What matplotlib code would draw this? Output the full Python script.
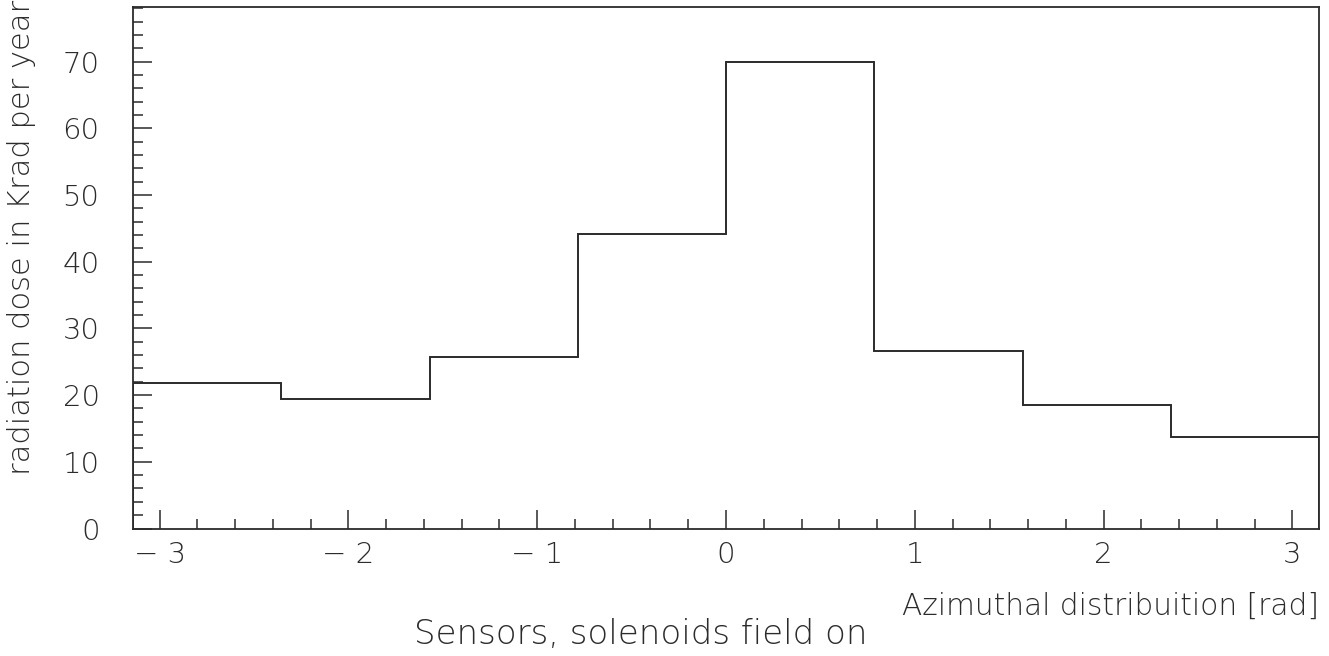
import matplotlib.pyplot as plt
import numpy as np
from matplotlib.ticker import MultipleLocator

# azimuthal bins, width pi/4, from -pi to pi
bin_edges = np.pi * np.array([-1.0, -0.75, -0.5, -0.25, 0.0, 0.25, 0.5, 0.75, 1.0])
dose = [21.8, 19.4, 25.7, 44.1, 70.0, 26.6, 18.5, 13.7]

x_label = "Azimuthal distribuition [rad]"
y_label = "radiation dose in Krad per year"
caption = "Sensors, solenoids field on"

ink = "#2b2b2b"
plt.rcParams["font.family"] = ["DejaVu Sans"]
plt.rcParams["font.weight"] = "light"

fig = plt.figure(figsize=(13.29, 6.56), dpi=100)
ax = fig.add_axes((133 / 1329, 1 - 528.5 / 656, 1186 / 1329, 521.5 / 656))

ax.stairs(dose, bin_edges, color=ink, linewidth=1.4)

ax.set_xlim(-np.pi, np.pi)
ax.set_ylim(0, 78.2)

ax.xaxis.set_major_locator(MultipleLocator(1))
ax.xaxis.set_minor_locator(MultipleLocator(0.2))
ax.yaxis.set_major_locator(MultipleLocator(10))
ax.yaxis.set_minor_locator(MultipleLocator(2))
ax.tick_params(which="both", direction="in", color=ink, width=1.1,
               top=False, right=False, labelcolor=ink, labelsize=21)
ax.tick_params(which="major", length=14)
ax.tick_params(which="minor", length=7)
ax.tick_params(axis="x", which="both", pad=9)
ax.tick_params(axis="y", which="both", pad=24)
ax.xaxis.set_major_formatter(lambda v, _: f"{v:.0f}".replace("-", "\u2212 "))
for side in ("left", "right", "top", "bottom"):
    ax.spines[side].set_color(ink)
    ax.spines[side].set_linewidth(1.3)

ax.text(1.0, -0.15, x_label, transform=ax.transAxes, ha="right", va="center",
        fontsize=21.3, color=ink)
fig.text(641 / 1329, 1 - 635 / 656, caption, ha="center", va="center",
         fontsize=24.5, color=ink)
fig.text(22 / 1329, 1.0, y_label, rotation=90, ha="center", va="top",
         fontsize=22, color=ink)

fig.savefig("out.png", dpi=100, facecolor="white")
plt.close(fig)
